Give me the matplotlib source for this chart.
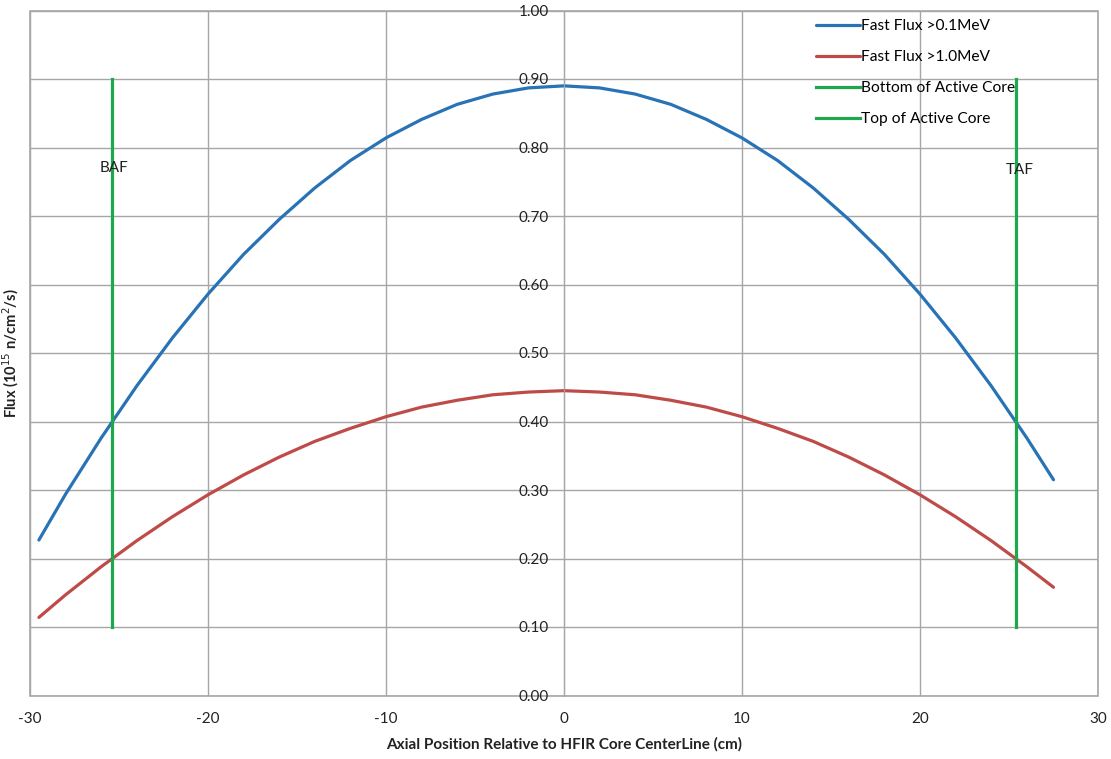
import matplotlib.pyplot as plt
from matplotlib.patches import Rectangle

plt.rcParams['font.family'] = ['Lato', 'DejaVu Sans']
plt.rcParams['axes.unicode_minus'] = False

# Axial positions (cm) and flux values
pos = [-29.5, -28, -26, -24, -22, -20, -18, -16, -14, -12, -10, -8, -6, -4, -2, 0,
       2, 4, 6, 8, 10, 12, 14, 16, 18, 20, 22, 24, 26, 27.5]
flux_01 = [0.227, 0.294, 0.376, 0.452, 0.522, 0.586, 0.644, 0.695, 0.741, 0.781, 0.814, 0.841,
           0.863, 0.878, 0.887, 0.890, 0.887, 0.878, 0.863, 0.841, 0.814, 0.781, 0.741, 0.695,
           0.644, 0.586, 0.522, 0.452, 0.376, 0.315]
flux_10 = [0.114, 0.147, 0.188, 0.226, 0.261, 0.293, 0.322, 0.348, 0.371, 0.390, 0.407, 0.421,
           0.431, 0.439, 0.443, 0.445, 0.443, 0.439, 0.431, 0.421, 0.407, 0.390, 0.371, 0.348,
           0.322, 0.293, 0.261, 0.226, 0.188, 0.158]

core_bottom = -25.4
core_top = 25.4
core_ymin, core_ymax = 0.10, 0.90

fig = plt.figure(figsize=(11.11, 7.59), dpi=100)
ax = fig.add_axes([30 / 1111, 1 - 695.5 / 759, 1068 / 1111, 685 / 759])

ax.plot(pos, flux_01, color='#2872b6', lw=2.3, label='Fast Flux >0.1MeV', solid_capstyle='round')
ax.plot(pos, flux_10, color='#be4b48', lw=2.3, label='Fast Flux >1.0MeV', solid_capstyle='round')
ax.plot([core_bottom, core_bottom], [core_ymin, core_ymax], color='#1ea84e', lw=2.3, label='Bottom of Active Core')
ax.plot([core_top, core_top], [core_ymin, core_ymax], color='#1ea84e', lw=2.3, label='Top of Active Core')

ax.text(core_bottom - 0.7, 0.77, 'BAF', fontsize=11, color='#222222', va='center')
ax.text(core_top - 0.6, 0.767, 'TAF', fontsize=11, color='#222222', va='center')

ax.set_xlim(-30, 30)
ax.set_ylim(0, 1.0)
ax.set_xticks(range(-30, 31, 10))
ax.set_yticks([i / 10 for i in range(11)])
ax.set_yticklabels([f'{i / 10:.2f}' for i in range(11)])
ax.grid(True, color='#a6a6a6', lw=1)
ax.set_axisbelow(True)

# y axis sits at x = 0
for s in ['top', 'right', 'bottom']:
    ax.spines[s].set_visible(False)
ax.spines['left'].set_position(('data', 0))
ax.spines['left'].set_color('#a6a6a6')
ax.add_patch(Rectangle((0, 0), 1, 1, transform=ax.transAxes, fill=False,
                       edgecolor='#a6a6a6', lw=1.2, clip_on=False, zorder=0.5))

ax.tick_params(axis='both', length=0, labelsize=11, labelcolor='#222222')
ax.tick_params(axis='y', pad=11)
ax.tick_params(axis='x', pad=12)

ax.set_xlabel('Axial Position Relative to HFIR Core CenterLine (cm)', fontsize=11,
              fontweight='bold', color='#222222', labelpad=8)
ax.set_ylabel('Flux (10$^{15}$ n/cm$^2$/s)', fontsize=10.5, fontweight='bold', color='#222222')
ax.yaxis.set_label_coords(-0.008, 0.5)

ax.legend(loc='upper left', bbox_to_anchor=(816 / 1111, 1 - 19 / 759), bbox_transform=fig.transFigure,
          frameon=False, fontsize=11.2, handlelength=2.8, handletextpad=0.1,
          labelspacing=1.1, borderpad=0, borderaxespad=0)

fig.savefig('out.png', dpi=100)
